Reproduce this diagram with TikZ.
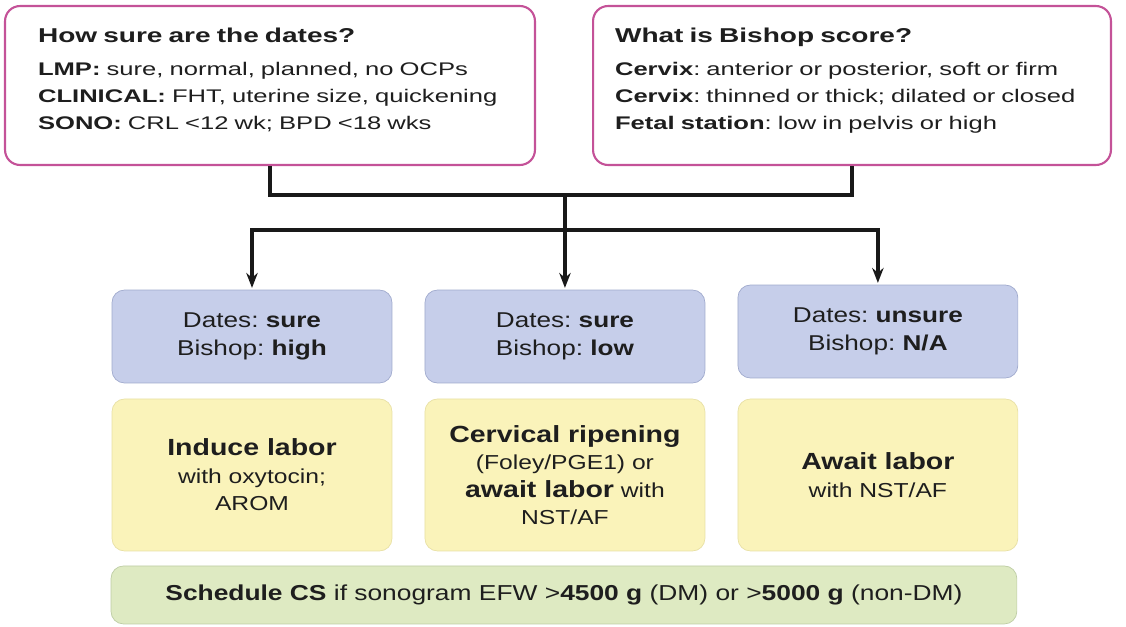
\documentclass[tikz,border=0pt]{standalone}
\usepackage{fontspec}
\setmainfont[FakeStretch=1.22]{Liberation Sans}
\newfontfamily\widefont[FakeStretch=1.4]{Liberation Sans}
\usetikzlibrary{positioning, arrows.meta}
\definecolor{pinkline}{RGB}{196,82,152}
\definecolor{bluefill}{RGB}{198,206,234}
\definecolor{blueline}{RGB}{160,170,205}
\definecolor{yellowfill}{RGB}{250,243,186}
\definecolor{yellowline}{RGB}{232,224,165}
\definecolor{greenfill}{RGB}{222,234,194}
\definecolor{greenline}{RGB}{190,205,165}
\definecolor{inktext}{RGB}{30,30,30}
\frenchspacing
\newcommand{\lowend}{\rule[-8pt]{0pt}{8pt}}

\begin{document}
\begin{tikzpicture}[x=0.02cm, y=-0.02cm, node distance=2.76cm and 6.26cm, on grid,
    question/.style={draw=pinkline, line width=1.2pt, rounded corners=0.3cm, fill=white,
      minimum height=3.18cm, align=left, text=inktext,
      font=\widefont\fontsize{10.4}{15.3}\selectfont},
    status/.style={draw=blueline, fill=bluefill, rounded corners=0.25cm, minimum width=5.6cm,
      minimum height=1.86cm, align=center, text=inktext, font=\fontsize{12.2}{15.9}\selectfont},
    action/.style={draw=yellowline, fill=yellowfill, rounded corners=0.25cm, minimum width=5.6cm,
      minimum height=3.04cm, align=center, text=inktext, font=\fontsize{11.5}{15.6}\selectfont},
    note/.style={draw=greenline, fill=greenfill, rounded corners=0.25cm, minimum width=18.12cm,
      minimum height=1.16cm, align=center, text=inktext, font=\fontsize{12.3}{14}\selectfont},
    conn/.style={line width=2.2pt, draw=black!90},
    tip/.style={-{Stealth[length=8.5pt, width=6.5pt]}, shorten >=1pt}]
   \useasboundingbox (0,0) rectangle (1126,626);
   % the two questions
   \node[question, inner xsep=0.66cm, text width=9.28cm] (dates) at (270,85.5)
     {{\fontsize{11.4}{15}\selectfont\bfseries How sure are the dates?}\\[3.6pt]
      \textbf{LMP:} sure, normal, planned, no OCPs\\
      \textbf{CLINICAL:} FHT, uterine size, quickening\\
      \textbf{SONO:} CRL <12 wk; BPD <18 wks\lowend};
   \node[question, inner xsep=0.44cm, text width=9.48cm] (bishop) at (852,85.5)
     {{\fontsize{11.4}{15}\selectfont\bfseries What is Bishop score?}\\[3.6pt]
      \textbf{Cervix}: anterior or posterior, soft or firm\\
      \textbf{Cervix}: thinned or thick; dilated or closed\\
      \textbf{Fetal station}: low in pelvis or high\lowend};
   % dates and Bishop score
   \node[status] (surehigh) at (252,336.5) {Dates: \textbf{sure}\\Bishop: \textbf{high}};
   \node[status] (surelow) [right=of surehigh] {Dates: \textbf{sure}\\Bishop: \textbf{low}};
   \node[status, yshift=0.1cm] (unsure) [right=of surelow] {Dates: \textbf{unsure}\\Bishop: \textbf{N/A}};
   % what to do
   \node[action] (induce) [below=of surehigh, yshift=-0.01cm]
     {{\fontsize{13.3}{16}\selectfont\bfseries Induce labor}\\with oxytocin;\\AROM};
   \node[action] (ripen) [below=of surelow, yshift=-0.01cm]
     {{\fontsize{13.3}{16}\selectfont\bfseries Cervical ripening}\\(Foley/PGE1) or\\
      {\fontsize{13.3}{15.6}\selectfont\bfseries await labor} with\\NST/AF};
   \node[action] (await) [below=of unsure, yshift=-0.11cm]
     {{\fontsize{13.3}{16}\selectfont\bfseries Await labor}\\with NST/AF};
   \node[note] (schedule) [below=2.4cm of ripen, xshift=-0.02cm]
     {\textbf{Schedule CS} if sonogram EFW >\textbf{4500 g} (DM) or >\textbf{5000 g} (non-DM)};
   % connectors
   \coordinate (top) at (565,195);
   \coordinate (fork) at (565,230);
   \draw[conn] (dates.south) |- (top) -| (bishop.south);
   \draw[conn] (top) -- (fork);
   \draw[conn, tip] (fork) -| (surehigh.north);
   \draw[conn, tip] (fork) -- (surelow.north);
   \draw[conn, tip] (fork) -| (unsure.north);
\end{tikzpicture}
\end{document}
